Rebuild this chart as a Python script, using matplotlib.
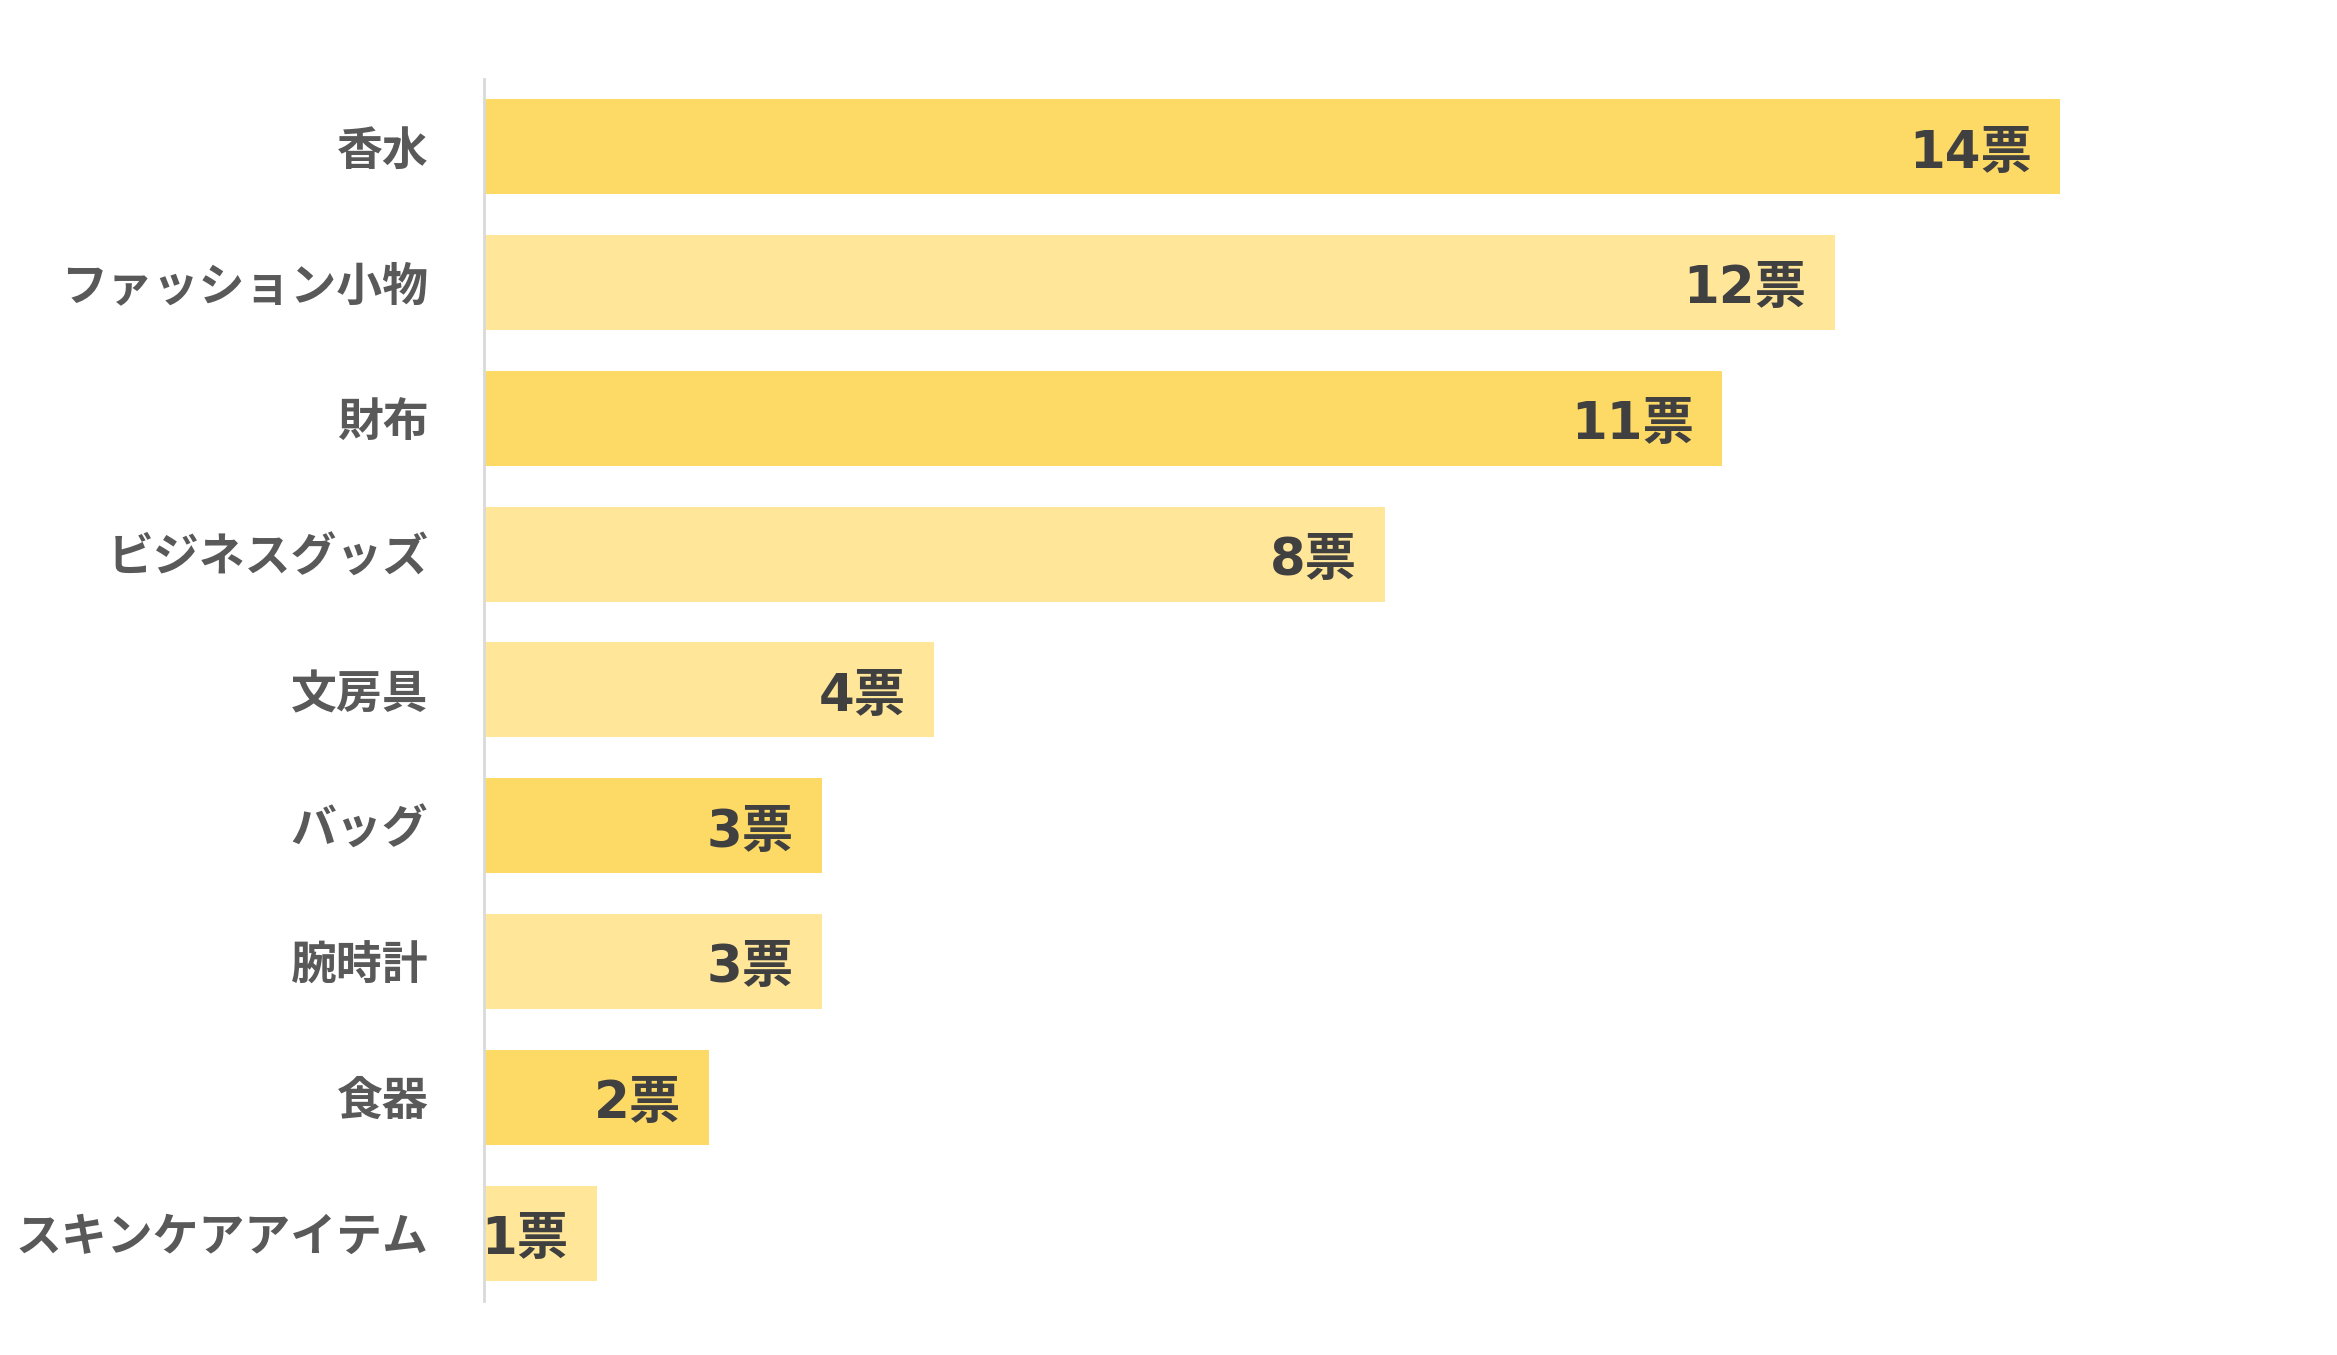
import matplotlib
matplotlib.use("Agg")
import matplotlib.pyplot as plt

plt.rcParams['font.family'] = ['Noto Sans CJK JP', 'DejaVu Sans']

# data (top to bottom)
categories = ['香水', 'ファッション小物', '財布', 'ビジネスグッズ', '文房具',
              'バッグ', '腕時計', '食器', 'スキンケアアイテム']
votes = [14, 12, 11, 8, 4, 3, 3, 2, 1]
dark = '#FDD966'
light = '#FFE699'
bar_colors = [dark, light, dark, light, light, dark, light, dark, light]

fig = plt.figure(figsize=(23.37, 13.55), dpi=100)
ax = fig.add_axes([0.2071, 0.0399, 0.763, 0.9018])

y = list(range(len(categories)))
ax.barh(y, votes, height=0.7, color=bar_colors)

# digits in a Verdana-like face, 票 from the CJK font
for yi, v in zip(y, votes):
    ax.text(v - 0.25, yi + 0.05, f'{v}票', ha='right', va='center',
            fontsize=37, fontweight='bold', color='#404040',
            family=['DejaVu Sans', 'Noto Sans CJK JP'])

ax.set_ylim(8.5, -0.5)
ax.set_xlim(0, 15.84)
ax.set_yticks(y)
ax.set_yticklabels(categories, fontsize=33, fontweight='bold', color='#595959')
ax.tick_params(axis='y', length=0, pad=40)
ax.set_xticks([])

for s in ['top', 'right', 'bottom']:
    ax.spines[s].set_visible(False)
ax.spines['left'].set_color('#D9D9D9')
ax.spines['left'].set_linewidth(2)

fig.savefig('out.png', dpi=100, facecolor='white')
